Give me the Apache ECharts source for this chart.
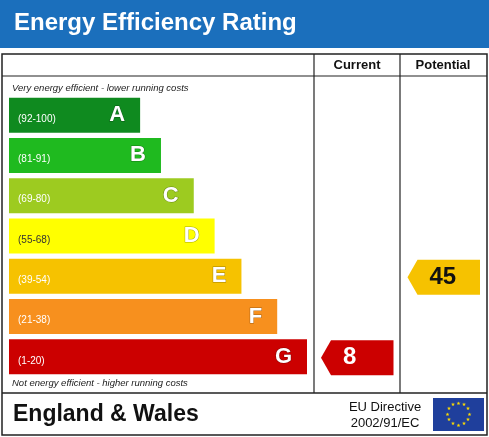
<!DOCTYPE html><html><head><meta charset="utf-8"><script src="https://cdn.jsdelivr.net/npm/echarts@6/dist/echarts.min.js"></script>
<style>html,body{margin:0;padding:0;background:#fff}#c{width:489px;height:437px}</style></head><body><div id="c"></div><script>
var bands=['A','B','C','D','E','F','G'];
var ranges=['(92-100)','(81-91)','(69-80)','(55-68)','(39-54)','(21-38)','(1-20)'];
var lengths=[44,51,62,69,78,90,100];
var colors=['#0f8a1f','#1fba1f','#9dcb20','#ffff00','#f6c200','#f7901e','#cc0000'];
var rangeColors=['#fff','#fff','#fff','#333','#fff','#fff','#fff'];
var columns=['Current','Potential'];
var ratings=[{col:'Current',band:'G',value:8},{col:'Potential',band:'E',value:45}];
var ch=echarts.init(document.getElementById('c'));
var F='Liberation Sans, Arial, sans-serif';
ch.setOption({animation:false,
grid:[{left:9,width:298,top:95,height:282},{left:314,width:173,top:95,height:282}],
xAxis:[{gridIndex:0,type:'value',min:0,max:100,show:false},{gridIndex:1,type:'category',data:columns,show:false}],
yAxis:[{gridIndex:0,type:'category',data:bands,inverse:true,show:false},{gridIndex:1,type:'category',data:bands,inverse:true,show:false}],
series:[
{type:'bar',barWidth:35,data:lengths.map(function(v,i){return {value:v,itemStyle:{color:colors[i]}};}),
 label:{show:true,position:'insideRight',offset:[-10,0],formatter:function(p){return bands[p.dataIndex];},color:'#fff',fontFamily:F,fontWeight:'bold',fontSize:22,textBorderColor:'rgba(0,0,0,0.35)',textBorderWidth:1}},
{type:'bar',barWidth:35,barGap:'-100%',data:lengths,itemStyle:{color:'rgba(0,0,0,0)'},
 label:{show:true,position:'insideLeft',offset:[4,4],
 formatter:function(p){return '{r'+p.dataIndex+'|'+ranges[p.dataIndex]+'}';},
 rich:(function(){var r={};rangeColors.forEach(function(c,i){r['r'+i]={color:c,fontSize:10,fontFamily:F};});return r;})()}},
{type:'custom',xAxisIndex:1,yAxisIndex:1,data:ratings.map(function(r){return [r.col,r.band,r.value];}),
 renderItem:function(params,api){
  var c=api.coord([api.value(0),api.value(1)]);var s=api.size([1,1]);
  var x0=c[0]-s[0]/2+7,x1=c[0]+s[0]/2-7,h=35,y0=c[1]-h/2+1,y1=y0+h,tip=10;
  var bi=api.value(1);
  return {type:'group',children:[
   {type:'polygon',shape:{points:[[x0,(y0+y1)/2],[x0+tip,y0],[x1,y0],[x1,y1],[x0+tip,y1]]},style:{fill:colors[bi]}},
   {type:'text',style:{text:String(api.value(2)),x:x0+tip+12,y:(y0+y1)/2,textVerticalAlign:'middle',fill:bi===6?'#fff':'#111',font:'bold 24px '+F}}]};
 }}
],
graphic:[
{type:'rect',shape:{x:0,y:0,width:489,height:48},style:{fill:'#1b6fbc'}},
{type:'text',left:14,top:11,style:{text:'Energy Efficiency Rating',fill:'#fff',font:'bold 24px '+F}},
{type:'rect',shape:{x:2,y:54,width:485,height:381},style:{fill:'none',stroke:'#222',lineWidth:1.5}},
{type:'line',shape:{x1:2,y1:76,x2:487,y2:76},style:{stroke:'#222',lineWidth:1.2}},
{type:'line',shape:{x1:314,y1:54,x2:314,y2:393},style:{stroke:'#222',lineWidth:1.2}},
{type:'line',shape:{x1:400,y1:54,x2:400,y2:393},style:{stroke:'#222',lineWidth:1.2}},
{type:'line',shape:{x1:2,y1:393,x2:487,y2:393},style:{stroke:'#222',lineWidth:1.5}},
{type:'text',x:357,y:65,style:{text:'Current',align:'center',verticalAlign:'middle',fill:'#111',font:'bold 13px '+F}},
{type:'text',x:443,y:65,style:{text:'Potential',align:'center',verticalAlign:'middle',fill:'#111',font:'bold 13px '+F}},
{type:'text',x:12,y:88,style:{text:'Very energy efficient - lower running costs',verticalAlign:'middle',fill:'#222',font:'italic 9.5px '+F}},
{type:'text',x:12,y:383,style:{text:'Not energy efficient - higher running costs',verticalAlign:'middle',fill:'#222',font:'italic 9.5px '+F}},
{type:'text',x:13,y:415,style:{text:'England & Wales',verticalAlign:'middle',fill:'#111',font:'bold 23px '+F}},
{type:'text',x:385,y:407,style:{text:'EU Directive',align:'center',verticalAlign:'middle',fill:'#111',font:'13px '+F}},
{type:'text',x:385,y:423,style:{text:'2002/91/EC',align:'center',verticalAlign:'middle',fill:'#111',font:'13px '+F}},
{type:'rect',shape:{x:433,y:398,width:51,height:33},style:{fill:'#1f3f9c'}},
{type:'group',children:Array.from({length:12}).map(function(_,i){var a=i*Math.PI/6;return {type:'text',x:458.5+11*Math.sin(a),y:414.5-11*Math.cos(a),style:{text:'★',align:'center',verticalAlign:'middle',fill:'#ffdd00',font:'5px DejaVu Sans'}};})}
]});
</script></body></html>
